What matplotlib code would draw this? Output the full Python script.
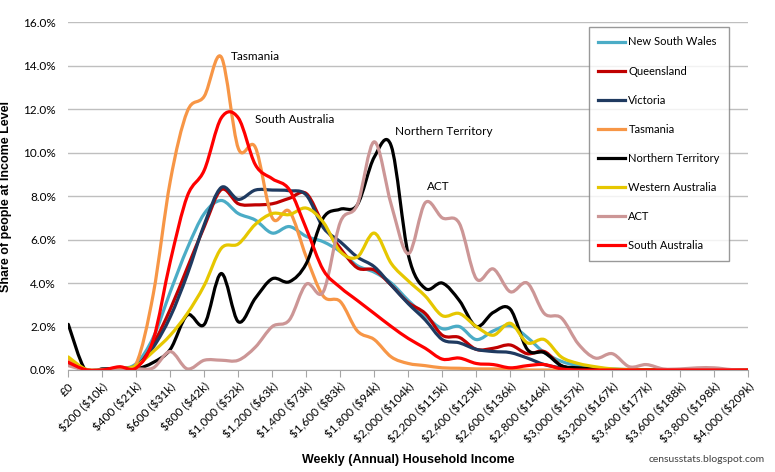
import numpy as np
import matplotlib.pyplot as plt
from matplotlib.path import Path
from matplotlib.patches import PathPatch
from matplotlib.lines import Line2D

plt.rcParams['font.family'] = ['Lato', 'DejaVu Sans']

# weekly household income, $100 steps
income = list(range(0, 4100, 100))

nsw = [0.4, 0.0, 0.0, 0.05, 0.3, 1.5, 3.6, 5.6, 7.2, 7.8, 7.2, 6.9, 6.3, 6.6, 6.15,
       5.9, 5.45, 4.8, 4.5, 4.0, 3.2, 2.5, 1.9, 2.0, 1.4, 1.8, 2.05, 1.5, 0.8, 0.4,
       0.2, 0.1, 0.05, 0.02, 0.0, 0.0, 0.0, 0.0, 0.0, 0.0, 0.0]
qld = [0.3, 0.0, 0.0, 0.1, 0.15, 1.2, 2.8, 4.7, 6.6, 8.3, 7.65, 7.6, 7.65, 7.9, 8.12,
       6.7, 5.6, 4.7, 4.6, 3.9, 3.1, 2.6, 1.6, 1.5, 0.95, 1.0, 1.15, 0.75, 0.85, 0.2,
       0.05, 0.0, 0.0, 0.0, 0.0, 0.0, 0.0, 0.0, 0.0, 0.0, 0.0]
vic = [0.3, 0.0, 0.0, 0.05, 0.2, 1.05, 2.45, 4.4, 6.7, 8.4, 7.85, 8.28, 8.28, 8.25, 8.05,
       6.55, 5.9, 5.2, 4.75, 3.9, 3.05, 2.3, 1.4, 1.25, 0.95, 0.85, 0.8, 0.55, 0.25, 0.1,
       0.03, 0.0, 0.0, 0.0, 0.0, 0.0, 0.0, 0.0, 0.0, 0.0, 0.0]
tas = [0.5, 0.0, 0.0, 0.05, 0.3, 3.5, 8.7, 11.9, 12.6, 14.4, 10.2, 10.25, 7.0, 7.3, 5.2,
       3.4, 3.15, 1.8, 1.4, 0.6, 0.3, 0.2, 0.1, 0.08, 0.05, 0.05, 0.03, 0.0, 0.0, 0.0,
       0.0, 0.0, 0.0, 0.0, 0.0, 0.0, 0.0, 0.0, 0.0, 0.0, 0.0]
nt = [2.1, 0.0, 0.05, 0.05, 0.05, 0.35, 0.95, 2.53, 2.1, 4.44, 2.22, 3.3, 4.2, 4.06, 4.9,
      7.0, 7.4, 7.6, 9.8, 10.3, 5.3, 3.75, 4.0, 3.2, 2.0, 2.65, 2.8, 0.95, 0.8, 0.2,
      0.1, 0.05, 0.0, 0.0, 0.0, 0.0, 0.0, 0.0, 0.0, 0.0, 0.0]
wa = [0.6, 0.05, 0.0, 0.05, 0.2, 0.85, 1.6, 2.6, 3.9, 5.6, 5.8, 6.7, 7.2, 7.15, 7.45,
      6.8, 5.45, 5.2, 6.3, 4.9, 4.1, 3.4, 2.5, 2.6, 2.0, 1.6, 2.15, 1.25, 1.4, 0.6,
      0.3, 0.15, 0.05, 0.02, 0.0, 0.0, 0.0, 0.0, 0.0, 0.0, 0.0]
act = [0.2, 0.0, 0.0, 0.0, 0.05, 0.1, 0.85, 0.05, 0.45, 0.45, 0.45, 1.05, 2.0, 2.3, 3.95,
       3.6, 6.8, 7.6, 10.5, 7.6, 5.35, 7.7, 7.0, 6.75, 4.2, 4.65, 3.6, 4.0, 2.6, 2.4,
       1.2, 0.55, 0.75, 0.15, 0.25, 0.05, 0.05, 0.1, 0.1, 0.02, 0.0]
sa = [0.35, 0.02, 0.0, 0.15, 0.1, 1.4, 5.0, 8.0, 9.2, 11.6, 11.6, 9.45, 8.8, 8.3, 6.5,
      4.6, 3.8, 3.2, 2.6, 2.0, 1.45, 1.0, 0.5, 0.55, 0.3, 0.25, 0.1, 0.2, 0.25, 0.05,
      0.0, 0.0, 0.0, 0.0, 0.0, 0.0, 0.0, 0.0, 0.0, 0.0, 0.0]

series = [
    ("New South Wales", nsw, "#4BACC6"),
    ("Queensland", qld, "#C00000"),
    ("Victoria", vic, "#1F3A60"),
    ("Tasmania", tas, "#F79646"),
    ("Northern Territory", nt, "#000000"),
    ("Western Australia", wa, "#E6C700"),
    ("ACT", act, "#CC9696"),
    ("South Australia", sa, "#FF0000"),
]

tick_vals = list(range(0, 4200, 200))
tick_labels = ["£0", "$200 ($10k)", "$400 ($21k)", "$600 ($31k)", "$800 ($42k)",
               "$1,000 ($52k)", "$1,200 ($63k)", "$1,400 ($73k)", "$1,600 ($83k)",
               "$1,800 ($94k)", "$2,000 ($104k)", "$2,200 ($115k)", "$2,400 ($125k)",
               "$2,600 ($136k)", "$2,800 ($146k)", "$3,000 ($157k)", "$3,200 ($167k)",
               "$3,400 ($177k)", "$3,600 ($188k)", "$3,800 ($198k)", "$4,000 ($209k)"]
tick_labels = [t.replace("$", r"\$") for t in tick_labels]


def smooth_path(x, y):
    # Excel style smoothed line: cubic bezier between points
    x = np.asarray(x, float)
    y = np.asarray(y, float)
    pts = np.column_stack([x, y])
    verts = [pts[0]]
    codes = [Path.MOVETO]
    n = len(pts)
    for i in range(n - 1):
        p0 = pts[i - 1] if i > 0 else pts[i]
        p1 = pts[i]
        p2 = pts[i + 1]
        p3 = pts[i + 2] if i + 2 < n else pts[i + 1]
        c1 = p1 + (p2 - p0) / 6.0
        c2 = p2 - (p3 - p1) / 6.0
        verts += [c1, c2, p2]
        codes += [Path.CURVE4] * 3
    return Path(verts, codes)


fig = plt.figure(figsize=(7.75, 4.72), dpi=100)
ax = fig.add_axes([68.3 / 775, 1 - 370 / 472, 680 / 775, 347.7 / 472])

handles = []
for name, vals, col in series:
    patch = PathPatch(smooth_path(income, vals), facecolor="none", edgecolor=col,
                      lw=2.3, capstyle="round", joinstyle="round")
    ax.add_patch(patch)
    handles.append(Line2D([], [], color=col, lw=2.3))

ax.set_xlim(0, 4000)
ax.set_ylim(0, 16)
ax.set_yticks(np.arange(0, 17, 2))
ax.set_yticklabels(["%.1f%%" % v for v in np.arange(0, 17, 2)], fontsize=8.5)
ax.set_xticks(tick_vals)
ax.set_xticklabels(tick_labels, rotation=45, ha="right", rotation_mode="anchor",
                   fontsize=8.5)
ax.yaxis.grid(True, color="#BFBFBF", lw=1)
ax.set_axisbelow(True)
for s in ["top", "right", "left"]:
    ax.spines[s].set_visible(False)
ax.spines["bottom"].set_color("#A6A6A6")
ax.tick_params(axis="y", length=0, pad=9)
ax.tick_params(axis="x", length=5, color="#A6A6A6", pad=3)

ax.set_ylabel("Share of people at Income Level", fontsize=9, fontweight="bold",
              family=["Liberation Sans", "DejaVu Sans"], labelpad=8)
ax.set_xlabel("Weekly (Annual) Household Income", fontsize=9, fontweight="bold",
              family=["Liberation Sans", "DejaVu Sans"], labelpad=6)

ax.text(957, 14.44, "Tasmania", fontsize=8.5, va="center")
ax.text(1098, 11.54, "South Australia", fontsize=8.5, va="center")
ax.text(1922, 10.99, "Northern Territory", fontsize=8.5, va="center")
ax.text(2110, 8.46, "ACT", fontsize=8.5, va="center")

leg = fig.legend(handles, [s[0] for s in series], loc="upper left",
                 bbox_to_anchor=(589 / 775, 1 - 27 / 472), fontsize=8,
                 frameon=True, fancybox=False, edgecolor="#808080",
                 handlelength=2.4, handletextpad=0.3, labelspacing=1.63,
                 borderpad=0.85, borderaxespad=0)
leg.get_frame().set_linewidth(1)

fig.text(765 / 775, 1 - 460 / 472, "censusstats.blogspot.com", fontsize=7.5,
         color="#404040", ha="right", va="center")

fig.savefig("out.png", dpi=100)
